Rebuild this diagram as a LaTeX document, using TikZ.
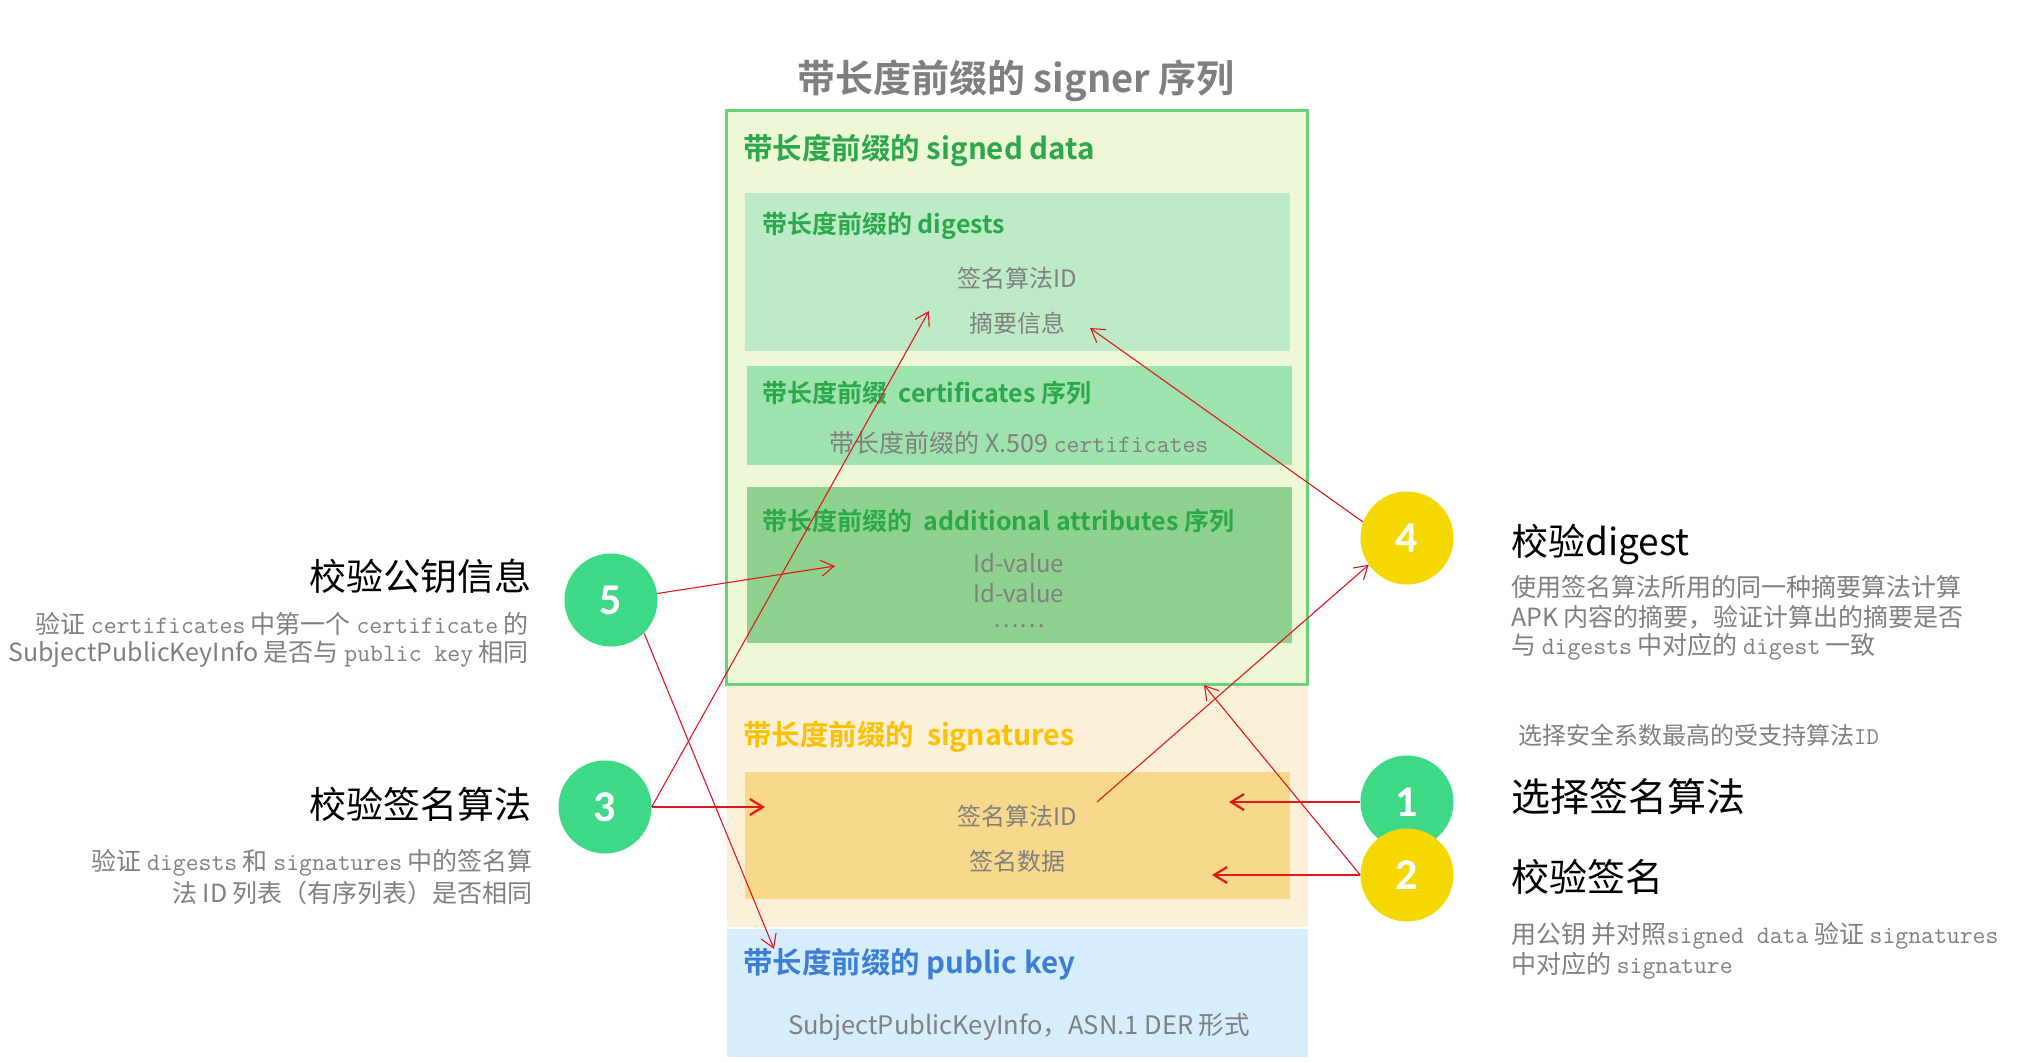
\documentclass[tikz,border=0pt]{standalone}
\usepackage{fontspec}
\setmainfont{Noto Sans CJK SC}[BoldFont={Noto Sans CJK SC Bold}]
\newfontfamily\digitf{Carlito}
\usetikzlibrary{arrows.meta}
\definecolor{titlegray}{RGB}{127,127,127}
\definecolor{txtgray}{RGB}{128,128,128}
\definecolor{hdrgreen}{RGB}{42,168,74}
\definecolor{sdfill}{RGB}{238,247,214}
\definecolor{sdborder}{RGB}{104,209,122}
\definecolor{dgfill}{RGB}{189,235,199}
\definecolor{crfill}{RGB}{158,227,173}
\definecolor{atfill}{RGB}{143,210,144}
\definecolor{sgfill}{RGB}{253,240,216}
\definecolor{sgin}{RGB}{248,216,138}
\definecolor{sghdr}{RGB}{255,192,0}
\definecolor{pkfill}{RGB}{214,238,252}
\definecolor{pkhdr}{RGB}{60,126,214}
\definecolor{cgreen}{RGB}{62,217,135}
\definecolor{cyellow}{RGB}{245,216,0}
\definecolor{arrred}{RGB}{228,22,28}
\tikzset{
  hdr/.style={anchor=west,inner sep=0pt,font=\bfseries\fontsize{25}{28}\selectfont},
  inner/.style={inner sep=0pt,text=txtgray,font=\fontsize{24}{28}\selectfont},
  bigtitle/.style={inner sep=0pt,text=black,font=\fontsize{37}{40}\selectfont},
  desc/.style={inner sep=0pt,text=txtgray,font=\fontsize{25}{30}\selectfont},
  num/.style={circle,minimum size=93pt,inner sep=0pt,text=white,font=\digitf\bfseries\fontsize{44}{44}\selectfont},
  thin arrow/.style={draw=arrred,line width=1.1pt,-{Straight Barb[length=13pt,width=16pt,line width=1.1pt]}},
  thick arrow/.style={draw=arrred,line width=2.2pt,-{Straight Barb[length=13pt,width=16pt,line width=2.2pt]}}
}
\begin{document}
\begin{tikzpicture}[x=1pt,y=-1pt]
\useasboundingbox (0,0) rectangle (2043,1061);
\fill[white] (0,0) rectangle (2043,1061);

% title
\node[inner sep=0pt,text=titlegray,font=\bfseries\fontsize{38}{42}\selectfont] (title) at (1016,81) {带长度前缀的 signer 序列};

% regions
\fill[sgfill] (727,685) rectangle (1308,927);
\fill[sgin] (745,772) rectangle (1290,899);
\fill[pkfill] (727,929) rectangle (1308,1057);
\filldraw[fill=sdfill,draw=sdborder,line width=3pt] (726,110) rectangle (1307,684);
\fill[dgfill] (745,193) rectangle (1290,351);
\fill[crfill] (747,366) rectangle (1292,465);
\fill[atfill] (747,487) rectangle (1292,643);

% headers
\node[hdr,text=hdrgreen,font=\bfseries\fontsize{29.5}{32}\selectfont] (sdh) at (743,150) {带长度前缀的 signed data};
\node[hdr,text=hdrgreen] (dgh) at (762,226) {带长度前缀的 digests};
\node[hdr,text=hdrgreen] (crh) at (762,393) {带长度前缀\ \ certificates 序列};
\node[hdr,text=hdrgreen] (ath) at (762,521) {带长度前缀的\ \ additional attributes 序列};
\node[hdr,text=sghdr,font=\bfseries\fontsize{28.5}{32}\selectfont] (sgh) at (743,737) {带长度前缀的\ \ signatures};
\node[hdr,text=pkhdr,font=\bfseries\fontsize{29.5}{32}\selectfont] (pkh) at (743,964) {带长度前缀的 public key};

% inner texts
\node[inner] (dg1) at (1017,278) {签名算法ID};
\node[inner] (dg2) at (1017,323) {摘要信息};
\node[inner,font=\fontsize{25}{28}\selectfont] (cr1) at (1019,443) {带长度前缀的 X.509 {\ttfamily certificates}};
\node[inner] (at1) at (1019,563) {Id-value};
\node[inner] (at2) at (1019,593) {Id-value};
\node[inner] (at3) at (1019,626) {……};
\node[inner] (sg1) at (1017,816) {签名算法ID};
\node[inner] (sg2) at (1017,861) {签名数据};
\node[inner,font=\fontsize{25.5}{28}\selectfont] (pk1) at (1019,1027) {SubjectPublicKeyInfo，ASN.1 DER 形式};

% left texts
\node[bigtitle,anchor=east] (l5t) at (532,576) {校验公钥信息};
\node[desc,anchor=east] (l5a) at (529,624) {验证 {\ttfamily certificates} 中第一个 {\ttfamily certificate} 的};
\node[desc,anchor=east] (l5b) at (529,654) {SubjectPublicKeyInfo 是否与 {\ttfamily public key} 相同};
\node[bigtitle,anchor=east] (l3t) at (532,804) {校验签名算法};
\node[desc,anchor=east] (l3a) at (533,863) {验证 {\ttfamily digests} 和 {\ttfamily signatures} 中的签名算};
\node[desc,anchor=east] (l3b) at (533,893) {法 ID 列表（有序列表）是否相同};

% right texts
\node[bigtitle,anchor=west] (r4t) at (1511,544) {校验digest};
\node[desc,anchor=west] (r4a) at (1511,587) {使用签名算法所用的同一种摘要算法计算};
\node[desc,anchor=west] (r4b) at (1511,617) {APK 内容的摘要，验证计算出的摘要是否};
\node[desc,anchor=west] (r4c) at (1511,647) {与 {\ttfamily digests} 中对应的 {\ttfamily digest} 一致};
\node[desc,anchor=west,font=\fontsize{24}{28}\selectfont] (r1a) at (1518,735) {选择安全系数最高的受支持算法{\ttfamily ID}};
\node[bigtitle,anchor=west,font=\fontsize{39}{40}\selectfont] (r1t) at (1511,797) {选择签名算法};
\node[bigtitle,anchor=west,font=\fontsize{38}{40}\selectfont] (r2t) at (1511,877) {校验签名};
\node[desc,anchor=west] (r2a) at (1511,936) {用公钥 并对照{\ttfamily signed data} 验证 {\ttfamily signatures}};
\node[desc,anchor=west] (r2b) at (1511,966) {中对应的 {\ttfamily signature}};

% circles
\node[num,fill=cgreen] (c5) at (611,600) {5};
\node[num,fill=cgreen] (c3) at (605,807) {3};
\node[num,fill=cyellow] (c4) at (1407,538) {4};
\node[num,fill=cgreen] (c1) at (1407,802) {1};
\node[num,fill=cyellow] (c2) at (1407,875) {2};

% arrow targets
\coordinate (t5a) at (835,566);
\coordinate (t5b) at (774,949);
\coordinate (t3a) at (929,311);
\coordinate (t3b) at (765,807);
\coordinate (t4) at (1090,328);
\coordinate (s4) at (1097,802);
\coordinate (t1) at (1229,802);
\coordinate (t2a) at (1212,875);
\coordinate (t2b) at (1204,685);

% arrows
\draw[thin arrow] (c5.8) -- (t5a);
\draw[thin arrow] (c5.-45) -- (t5b);
\draw[thin arrow] (c3.east) -- (t3a);
\draw[thick arrow] (c3.east) -- (t3b);
\draw[thin arrow] (c4.160) -- (t4);
\draw[thin arrow] (s4) -- (c4.215);
\draw[thick arrow] (c1.west) -- (t1);
\draw[thick arrow] (c2.west) -- (t2a);
\draw[thin arrow] (c2.west) -- (t2b);
\end{tikzpicture}
\end{document}
